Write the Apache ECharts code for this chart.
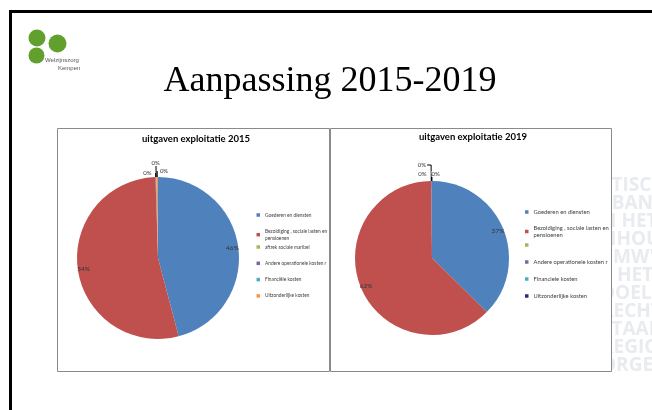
<!DOCTYPE html>
<html>
<head>
<meta charset="utf-8">
<script src="https://cdn.jsdelivr.net/npm/echarts@6/dist/echarts.min.js"></script>
<style>
  html, body { margin: 0; padding: 0; background: #fff; }
  #main { width: 652px; height: 410px; }
</style>
</head>
<body>
<div id="main"></div>
<script>
// data
const categories2015 = ['Goederen en diensten', 'Bezoldiging , sociale lasten en\npensioenen', 'aftrek sociale maribel', 'Andere operationele kosten r', 'Financiële kosten', 'Uitzonderlijke kosten'];
const values2015 = [45.9, 53.6, 0, 0.1, 0.1, 0.3];

const categories2019 = ['Goederen en diensten', 'Bezoldiging , sociale lasten en\npensioenen', ' ', 'Andere operationele kosten r', 'Financiele kosten', 'Uitzonderlijke kosten'];
const values2019 = [37.4, 62.4, 0, 0.1, 0.05, 0.05];

const backdropLines = ['STISCH', 'EBAND', 'N HET', 'NHOUD', 'CMW\'S', 'T HET', 'DOEL', 'RECHT', 'STAAN', 'REGIO', 'ORGEN'];

const colors2015 = ['#4F81BD', '#C0504D', '#9BBB59', '#8064A2', '#4BACC6', '#F79646'];
const colors2019 = ['#4F81BD', '#C0504D', '#9BBB59', '#8064A2', '#4BACC6', '#2B2B80'];

// leader line setup for the "0%" labels at the top of each pie (index -> [length, length2, distance])
const tinyLabels2015 = { 3: [4, 0, 4], 4: [14, 0, -4], 5: [6, 0, -11] };
const tinyLabels2019 = { 3: [16, 4, 1], 4: [7, 0, 5], 5: [7, 0, -8] };

const pct = p => Math.round(p.percent) + '%';
const smallFont = { fontFamily: 'Lato', fontSize: 6, color: '#333' };

function sliceData(names, values, colors, tiny) {
  return names.map((n, i) => {
    const t = tiny[i];
    return {
      name: n,
      value: values[i],
      itemStyle: { color: colors[i] },
      label: t ? { show: true, distanceToLabelLine: t[2] } : { show: false },
      labelLine: t ? { length: t[0], length2: t[1] } : undefined
    };
  });
}
function ringData(names, values) {
  return names.map((n, i) => ({ name: n, value: values[i], label: { show: i < 2 } }));
}

function pieSeries(center, r, names, values, colors, tiny) {
  return [
    {
      type: 'pie', center: center, radius: [0, r], silent: true,
      avoidLabelOverlap: false,
      itemStyle: { borderWidth: 0 },
      label: Object.assign({ position: 'outside', formatter: pct, backgroundColor: '#fff', padding: [0, 0] }, smallFont),
      labelLine: { lineStyle: { color: '#000', width: 1 } },
      data: sliceData(names, values, colors, tiny)
    },
    {
      // transparent ring that only carries the inside percentage labels
      type: 'pie', center: center, radius: [r * 0.78, r], silent: true,
      itemStyle: { color: 'rgba(0,0,0,0)' },
      label: Object.assign({ position: 'inside', formatter: pct }, smallFont, { fontSize: 6.5 }),
      labelLine: { show: false },
      data: ringData(names, values)
    }
  ];
}

function legendOf(names, colors, from, to, left, top, gap, size) {
  return {
    orient: 'vertical', left: left, top: top, icon: 'rect', padding: 0,
    itemWidth: 3.5, itemHeight: 3.5, itemGap: gap, selectedMode: false,
    textStyle: { fontFamily: 'Lato', fontSize: size, lineHeight: 7, color: '#404040' },
    data: names.slice(from, to).map((n, i) => ({ name: n, itemStyle: { color: colors[from + i] } }))
  };
}

const graphics = [];
backdropLines.forEach((t, i) => {
  graphics.push({
    type: 'text', x: 601, y: 176 + i * 18,
    style: { text: t, font: 'bold 19px "Open Sans"', fill: '#e8ebef' }
  });
});
graphics.push(
  { type: 'rect', shape: { x: 57.5, y: 128.5, width: 272, height: 243 }, style: { fill: '#fff', stroke: '#8a8a8a', lineWidth: 1 } },
  { type: 'rect', shape: { x: 330.5, y: 128.5, width: 281, height: 243 }, style: { fill: '#fff', stroke: '#8a8a8a', lineWidth: 1 } },
  { type: 'rect', shape: { x: 10.5, y: 11.5, width: 700, height: 500 }, style: { fill: 'none', stroke: '#000', lineWidth: 3 } },
  { type: 'circle', shape: { cx: 37, cy: 38, r: 8.5 }, style: { fill: '#62a02e' } },
  { type: 'circle', shape: { cx: 57.5, cy: 43.5, r: 9 }, style: { fill: '#62a02e' } },
  { type: 'circle', shape: { cx: 36.5, cy: 55.5, r: 8 }, style: { fill: '#62a02e' } },
  { type: 'text', x: 45, y: 57, style: { text: 'Welzijnszorg', font: '6px "Liberation Sans"', fill: '#555' } },
  { type: 'text', x: 58, y: 65, style: { text: 'Kempen', font: '6px "Liberation Sans"', fill: '#555' } },
  { type: 'text', x: 330, y: 82, style: { text: 'Aanpassing 2015-2019', font: '36px "Liberation Serif"', fill: '#000', align: 'center', verticalAlign: 'middle' } }
);

const option = {
  animation: false,
  color: colors2015,
  graphic: graphics,
  title: [
    { text: 'uitgaven exploitatie 2015', left: 196, top: 134, padding: 0, textAlign: 'center',
      textStyle: { fontFamily: 'Lato', fontWeight: 'bold', fontSize: 9.5, color: '#000' } },
    { text: 'uitgaven exploitatie 2019', left: 473, top: 132, padding: 0, textAlign: 'center',
      textStyle: { fontFamily: 'Lato', fontWeight: 'bold', fontSize: 9.5, color: '#000' } }
  ],
  legend: [
    legendOf(categories2015, colors2015, 0, 2, 256.5, 211.5, 9.2, 4.8),
    legendOf(categories2015, colors2015, 2, 6, 256.5, 243.5, 9.3, 4.8),
    legendOf(categories2019, colors2019, 0, 2, 525, 208.5, 9, 5.8),
    legendOf(categories2019, colors2019, 2, 6, 525, 241.5, 10, 5.8)
  ],
  series: [].concat(
    pieSeries([158, 258], 81, categories2015, values2015, colors2015, tinyLabels2015),
    pieSeries([432, 258], 77, categories2019, values2019, colors2019, tinyLabels2019)
  )
};

const myChart = echarts.init(document.getElementById('main'));
myChart.setOption(option);
</script>
</body>
</html>
